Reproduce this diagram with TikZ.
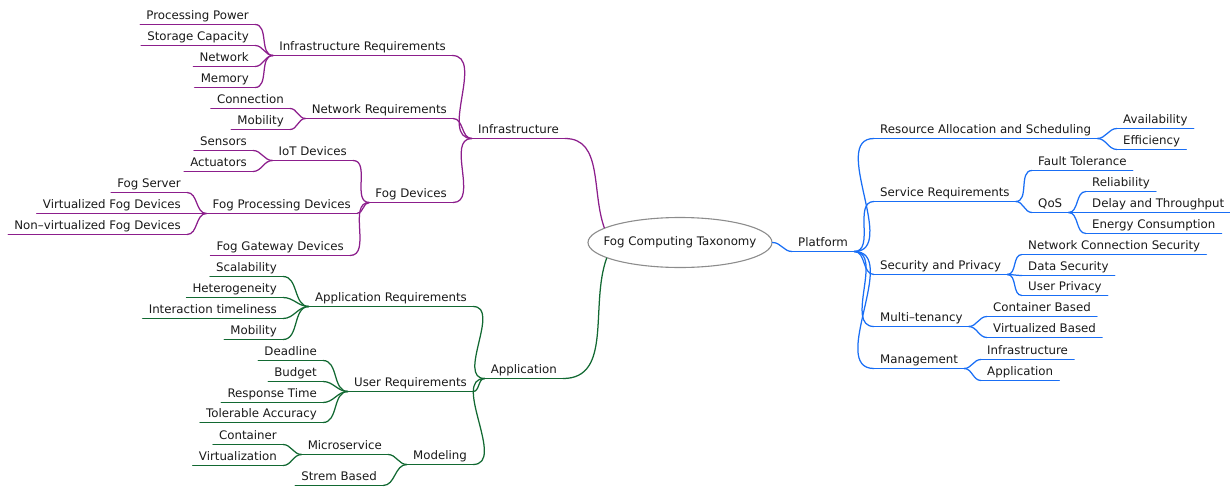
\documentclass[tikz,border=0pt]{standalone}
\usepackage{fontspec}
\setmainfont{DejaVu Sans}
\usetikzlibrary{shapes.geometric}

\definecolor{infracol}{RGB}{140,30,140}
\definecolor{appcol}{RGB}{18,105,50}
\definecolor{platcol}{RGB}{25,110,245}

\tikzset{
  topic/.style={inner xsep=6pt, inner ysep=1.5pt, text height=8.5pt, text depth=3pt,
    text=black!90, font=\fontsize{11.8}{13}\selectfont},
  lefttopic/.style={topic, anchor=south east},
  righttopic/.style={topic, anchor=south west},
  branch/.style={line width=1.25pt, line cap=round},
}

\begin{document}
\begin{tikzpicture}[x=1pt, y=-1pt]

% canvas, in pixels of the original:
\useasboundingbox (0,0) rectangle (1230,487);

% root:
\node[ellipse, draw=black!45, line width=1.1pt, minimum width=184pt, minimum height=50pt,
  inner xsep=-20pt, inner ysep=-8pt, text=black!90, font=\fontsize{11.8}{13}\selectfont]
  (root) at (680,242.5) {Fog Computing Taxonomy};

% infrastructure, right aligned towards the root:
\foreach \n/\t/\x/\y in {
  infra/Infrastructure/565/138.5,
  ireq/Infrastructure Requirements/452/55.5,
  ppow/Processing Power/255/24.5,
  stor/Storage Capacity/255/45.5,
  inet/Network/255/66.5,
  imem/Memory/255/87.5,
  nreq/Network Requirements/453/118.5,
  conn/Connection/290/108.5,
  nmob/Mobility/290/129.5,
  fdev/Fog Devices/453/202.5,
  iot/IoT Devices/353/160.5,
  sens/Sensors/253/150.5,
  act/Actuators/253/171.5,
  fproc/Fog Processing Devices/357/213.5,
  fserv/Fog Server/187/192.5,
  vfog/Virtualized Fog Devices/187/213.5,
  nvfog/Non–virtualized Fog Devices/187/234.5,
  fgate/Fog Gateway Devices/350/255.5}{
  \node[lefttopic] (\n) at (\x,\y) {\t};
  \draw[branch, infracol] (\n.south west) -- (\n.south east);
}

\foreach \c/\p in {ppow/ireq, stor/ireq, inet/ireq, imem/ireq,
  conn/nreq, nmob/nreq, sens/iot, act/iot,
  fserv/fproc, vfog/fproc, nvfog/fproc,
  iot/fdev, fproc/fdev, fgate/fdev,
  ireq/infra, nreq/infra, fdev/infra}
  \draw[branch, infracol] (\c.south east) to[out=0, in=180] (\p.south west);

\draw[branch, infracol] (infra.south east) to[out=0, in=110] (root.169);

% application:
\foreach \n/\t/\x/\y in {
  app/Application/563/378.5,
  areq/Application Requirements/473/306.5,
  scal/Scalability/283/276.5,
  het/Heterogeneity/283/297.5,
  itime/Interaction timeliness/283/318.5,
  amob/Mobility/283/339.5,
  ureq/User Requirements/473/391.5,
  dead/Deadline/323/360.5,
  budg/Budget/323/381.5,
  resp/Response Time/323/402.5,
  tol/Tolerable Accuracy/323/422.5,
  model/Modeling/473/464.5,
  micro/Microservice/388/454.5,
  cont/Container/283/444.5,
  virt/Virtualization/283/465.5,
  strem/Strem Based/383/485.5}{
  \node[lefttopic] (\n) at (\x,\y) {\t};
  \draw[branch, appcol] (\n.south west) -- (\n.south east);
}

\foreach \c/\p in {scal/areq, het/areq, itime/areq, amob/areq,
  dead/ureq, budg/ureq, resp/ureq, tol/ureq,
  cont/micro, virt/micro, micro/model, strem/model,
  areq/app, ureq/app, model/app}
  \draw[branch, appcol] (\c.south east) to[out=0, in=180] (\p.south west);

\draw[branch, appcol] (app.south east) to[out=0, in=250] (root.192);

% platform, left aligned away from the root:
\foreach \n/\t/\x/\y in {
  plat/Platform/792/251.5,
  res/Resource Allocation and Scheduling/874/138.5,
  avail/Availability/1117/128.5,
  eff/Efficiency/1117/149.5,
  sreq/Service Requirements/874/201.5,
  fault/Fault Tolerance/1032/170.5,
  qos/QoS/1032/212.5,
  rel/Reliability/1086/191.5,
  delay/Delay and Throughput/1086/212.5,
  energy/Energy Consumption/1086/233.5,
  sec/Security and Privacy/874/274.5,
  ncs/Network Connection Security/1022/254.5,
  dsec/Data Security/1022/275.5,
  upriv/User Privacy/1022/295.5,
  multi/Multi–tenancy/874/326.5,
  cbase/Container Based/987/316.5,
  vbase/Virtualized Based/987/337.5,
  mgmt/Management/874/368.5,
  minfra/Infrastructure/981/359.5,
  mapp/Application/981/380.5}{
  \node[righttopic] (\n) at (\x,\y) {\t};
  \draw[branch, platcol] (\n.south west) -- (\n.south east);
}

\foreach \p/\c in {plat/res, plat/sreq, plat/sec, plat/multi, plat/mgmt,
  res/avail, res/eff, sreq/fault, sreq/qos,
  qos/rel, qos/delay, qos/energy,
  sec/ncs, sec/dsec, sec/upriv,
  multi/cbase, multi/vbase, mgmt/minfra, mgmt/mapp}
  \draw[branch, platcol] (\p.south east) to[out=0, in=180] (\c.south west);

\draw[branch, platcol] (root.east) to[out=0, in=180] (plat.south west);

\end{tikzpicture}
\end{document}
